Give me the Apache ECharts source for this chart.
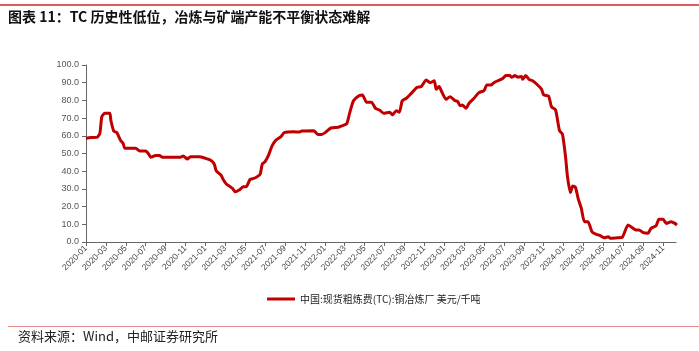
<!DOCTYPE html>
<html>
<head>
<meta charset="utf-8">
<script src="https://cdn.jsdelivr.net/npm/echarts@6/dist/echarts.min.js"></script>
<style>html,body{margin:0;padding:0;background:#fff}#c{width:699px;height:351px}</style>
</head>
<body>
<div id="c"></div>
<script>
// Observation dates and TC values (USD/t)
var dates = [
'2020-01-01','2020-01-16','2020-02-04','2020-02-13','2020-02-19','2020-02-28','2020-03-13','2020-03-16','2020-03-25','2020-04-04',
'2020-04-10','2020-04-16','2020-04-23','2020-04-29','2020-06-01','2020-06-13','2020-07-01','2020-07-10','2020-07-16','2020-08-01',
'2020-08-13','2020-08-22','2020-10-16','2020-10-24','2020-11-07','2020-11-16','2020-12-13','2021-01-01','2021-01-16','2021-01-28',
'2021-02-04','2021-02-18','2021-02-26','2021-03-04','2021-03-16','2021-03-22','2021-04-01','2021-04-13','2021-04-26','2021-05-04',
'2021-05-16','2021-05-29','2021-06-16','2021-06-23','2021-07-01','2021-07-13','2021-07-22','2021-08-04','2021-08-19','2021-08-29',
'2021-09-28','2021-10-13','2021-10-22','2021-11-28','2021-12-10','2021-12-22','2022-01-02','2022-01-20','2022-02-12','2022-02-21',
'2022-03-07','2022-03-16','2022-03-28','2022-04-13','2022-04-25','2022-05-07','2022-05-22','2022-06-04','2022-06-16','2022-06-29',
'2022-07-17','2022-07-25','2022-08-07','2022-08-16','2022-08-25','2022-09-07','2022-09-22','2022-10-10','2022-10-22','2022-11-07',
'2022-11-19','2022-12-01','2022-12-07','2022-12-16','2022-12-24','2023-01-07','2023-01-19','2023-02-04','2023-02-12','2023-02-19',
'2023-02-26','2023-03-07','2023-03-16','2023-04-01','2023-04-16','2023-05-01','2023-05-10','2023-05-22','2023-06-01','2023-06-13',
'2023-06-28','2023-07-07','2023-07-19','2023-07-25','2023-08-04','2023-08-14','2023-08-25','2023-08-28','2023-09-07','2023-09-17',
'2023-09-28','2023-10-13','2023-10-25','2023-11-01','2023-11-16','2023-11-25','2023-12-07','2023-12-19','2023-12-28','2024-01-07',
'2024-01-13','2024-01-22','2024-01-29','2024-02-07','2024-02-15','2024-02-25','2024-03-04','2024-03-15','2024-03-27','2024-04-10',
'2024-04-22','2024-05-04','2024-05-16','2024-05-22','2024-06-13','2024-06-28','2024-07-16','2024-08-01','2024-08-10','2024-08-19',
'2024-09-01','2024-09-16','2024-09-25','2024-10-10','2024-10-19','2024-11-01','2024-11-11','2024-11-26','2024-12-07','2024-12-13'
];
var tcValues = [
58.6,59.0,59.1,61.4,70.8,72.7,72.7,68.9,62.7,61.8,
59.5,57.2,55.8,52.9,52.9,51.4,51.4,49.7,47.9,48.8,
48.8,47.9,47.9,48.6,46.9,48.2,48.2,47.3,46.3,44.1,
40.1,37.9,35.0,32.8,31.2,30.5,28.4,29.4,31.2,31.2,
35.4,36.0,38.2,44.1,45.4,49.7,54.2,57.6,59.5,61.8,
62.3,62.1,62.7,62.9,60.8,60.8,61.8,64.4,64.8,65.5,
66.7,72.7,79.8,82.5,83.1,78.9,78.9,75.5,74.6,72.7,
73.3,71.8,74.2,73.3,79.8,81.2,84.0,87.4,87.8,91.5,
90.0,91.1,86.3,87.8,84.9,80.6,82.1,79.8,79.4,77.0,
77.4,75.5,78.3,81.2,84.4,85.5,88.7,88.7,90.0,91.1,
92.4,94.0,94.0,93.1,94.0,93.1,93.5,91.9,94.0,91.9,
91.1,88.7,86.3,83.1,82.5,76.4,74.6,62.9,61.0,48.2,
36.9,27.9,31.6,30.9,24.7,19.0,11.5,11.5,5.8,4.3,
3.6,2.4,3.0,2.1,2.4,2.6,9.6,7.7,6.8,6.8,
5.3,5.0,7.7,9.2,12.8,12.8,10.5,11.5,10.5,9.6
];
var tickLabels = ['2020-01','2020-03','2020-05','2020-07','2020-09','2020-11',
'2021-01','2021-03','2021-05','2021-07','2021-09','2021-11',
'2022-01','2022-03','2022-05','2022-07','2022-09','2022-11',
'2023-01','2023-03','2023-05','2023-07','2023-09','2023-11',
'2024-01','2024-03','2024-05','2024-07','2024-09','2024-11'];
var seriesName = '中国:现货粗炼费(TC):铜冶炼厂 美元/千吨';

function monthPos(s){
  var p = s.split('-');
  return (+p[0]-2020)*12 + (+p[1]-1) + (+p[2]-1)/30.5;
}
var seriesData = dates.map(function(d,i){ return [monthPos(d), tcValues[i]]; });
var tickPos = tickLabels.map(function(t){ return monthPos(t+'-01'); });

var chart = echarts.init(document.getElementById('c'));
chart.setOption({
  animation:false,
  backgroundColor:'#fff',
  grid:{left:86,right:23,top:65,bottom:109,containLabel:false},
  graphic:[
    {type:'rect',shape:{x:0,y:4,width:699,height:2},style:{fill:'#e05a5a'}},
    {type:'text',left:8,top:10,style:{text:'图表 11：TC 历史性低位，冶炼与矿端产能不平衡状态难解',font:'bold 14px "Noto Sans CJK SC"',fill:'#111'}},
    {type:'rect',shape:{x:8,y:326,width:691,height:1},style:{fill:'#e88a8a'}},
    {type:'text',left:18,top:330,style:{text:'资料来源：Wind，中邮证券研究所',font:'13px "Noto Sans CJK SC"',fill:'#222'}}
  ],
  legend:{
    left:262,top:289,
    icon:'rect',itemWidth:28,itemHeight:3,itemGap:10,
    textStyle:{fontFamily:'"Noto Sans CJK SC"',fontSize:10,color:'#222'},
    data:[seriesName]
  },
  xAxis:{
    type:'value',min:0,max:59.3,
    axisLine:{lineStyle:{color:'#666',width:1}},
    axisTick:{length:4,lineStyle:{color:'#666'},customValues:tickPos},
    splitLine:{show:false},
    axisLabel:{
      customValues:tickPos,
      rotate:45,fontSize:8.5,color:'#444',fontFamily:'"Liberation Sans"',margin:5,
      formatter:function(v){ var i=tickPos.indexOf(v); return i>=0?tickLabels[i]:''; }
    }
  },
  yAxis:{
    type:'value',min:0,max:100,interval:10,
    axisLine:{show:true,lineStyle:{color:'#666',width:1}},
    axisTick:{show:true,length:4,lineStyle:{color:'#666'}},
    splitLine:{show:false},
    axisLabel:{fontSize:9,color:'#555',fontFamily:'"Liberation Sans"',margin:7,
      formatter:function(v){return v.toFixed(1);}}
  },
  series:[{
    name:seriesName,type:'line',data:seriesData,
    showSymbol:false,symbol:'none',smooth:0.2,
    lineStyle:{color:'#C00000',width:3},
    itemStyle:{color:'#C00000'}
  }]
});
</script>
</body>
</html>
